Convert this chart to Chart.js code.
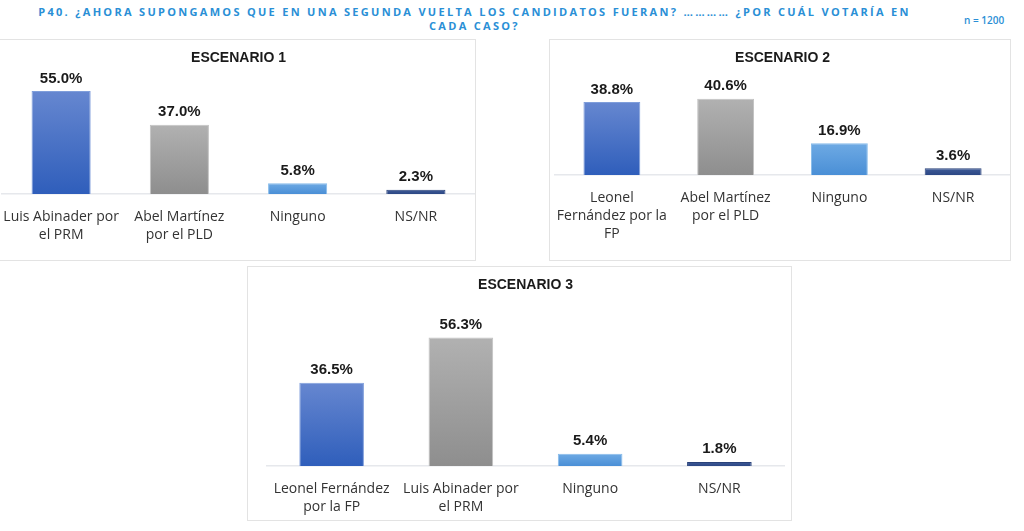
<!DOCTYPE html>
<html lang="es">
<head>
<meta charset="utf-8">
<title>P40 Segunda vuelta</title>
<script src="https://cdn.jsdelivr.net/npm/chart.js@4.4.0/dist/chart.umd.min.js"></script>
<style>
    body { margin: 0; width: 1024px; height: 531px; background: #fff; position: relative; overflow: hidden; }
    .titulo { position: absolute; left: 0; top: 5px; width: 949px; text-align: center; color: #2a8fd6;
              font: bold 11px "Open Sans", sans-serif; letter-spacing: 2.3px; line-height: 14px; }
    .muestra { position: absolute; left: 964px; top: 13px; color: #2a8fd6; font: 600 10px "Open Sans", sans-serif; }
    .caja { position: absolute; box-sizing: border-box; border: 1px solid #e3e3e3; background: #fff; }
</style>
</head>
<body>
<div class="titulo">P40. ¿AHORA SUPONGAMOS QUE EN UNA SEGUNDA VUELTA LOS CANDIDATOS FUERAN? ………… ¿POR CUÁL VOTARÍA EN<br>CADA CASO?</div>
<div class="muestra">n = 1200</div>

<div class="caja" style="left:-1px; top:39px; width:477px; height:222px;"><canvas id="grafico1"></canvas></div>
<div class="caja" style="left:549px; top:39px; width:462px; height:222px;"><canvas id="grafico2"></canvas></div>
<div class="caja" style="left:247px; top:266px; width:545px; height:255px;"><canvas id="grafico3"></canvas></div>

<script>
// datos de los tres escenarios
const titulos = ['ESCENARIO 1', 'ESCENARIO 2', 'ESCENARIO 3'];

const categorias1 = [['Luis Abinader por', 'el PRM'], ['Abel Martínez', 'por el PLD'], 'Ninguno', 'NS/NR'];
const valores1 = [55.0, 37.0, 5.8, 2.3];

const categorias2 = [['Leonel', 'Fernández por la', 'FP'], ['Abel Martínez', 'por el PLD'], 'Ninguno', 'NS/NR'];
const valores2 = [38.8, 40.6, 16.9, 3.6];

const categorias3 = [['Leonel Fernández', 'por la FP'], ['Luis Abinader por', 'el PRM'], 'Ninguno', 'NS/NR'];
const valores3 = [36.5, 56.3, 5.4, 1.8];

// colores por posición: arriba / abajo del degradado, y borde
const colorArriba = ['#6687d0', '#b1b1b1', '#6eaae4', '#3f5b98'];
const colorAbajo = ['#2f5ebb', '#8e8e8e', '#4a8fd6', '#2c4784'];
const colorBorde = ['#7f9edb', '#c2c2c2', '#86bbea', '#2a4279'];

// etiquetas de porcentaje encima de cada barra
const etiquetasValor = {
    id: 'etiquetasValor',
    afterDatasetsDraw(chart) {
        const ctx = chart.ctx;
        const meta = chart.getDatasetMeta(0);
        const datos = chart.data.datasets[0].data;
        ctx.save();
        ctx.font = 'bold 15px "Liberation Sans", Arial, sans-serif';
        ctx.fillStyle = '#1a1a1a';
        ctx.textAlign = 'center';
        ctx.textBaseline = 'alphabetic';
        meta.data.forEach((barra, i) => {
            ctx.fillText(datos[i].toFixed(1) + '%', barra.x, barra.y - 8.5);
        });
        ctx.restore();
    }
};

function degradado(context) {
    const chart = context.chart;
    const area = chart.chartArea;
    const i = context.dataIndex;
    if (!area) return colorAbajo[i];
    const valor = context.dataset.data[i];
    const yTop = chart.scales.y.getPixelForValue(valor);
    const g = chart.ctx.createLinearGradient(0, yTop, 0, area.bottom);
    g.addColorStop(0, colorArriba[i]);
    g.addColorStop(1, colorAbajo[i]);
    return g;
}

function crearGrafico(id, titulo, etiquetas, valores, ajuste) {
    const ctx = document.getElementById(id).getContext('2d');
    return new Chart(ctx, {
        type: 'bar',
        data: {
            labels: etiquetas,
            datasets: [{
                data: valores,
                backgroundColor: degradado,
                borderColor: colorBorde,
                borderWidth: 1,
                borderSkipped: 'bottom',
                barPercentage: 0.5,
                categoryPercentage: 1.0
            }]
        },
        options: {
            responsive: true,
            maintainAspectRatio: false,
            animation: false,
            layout: {
                padding: { left: ajuste.izq, right: ajuste.der, top: 0, bottom: 0 }
            },
            plugins: {
                legend: { display: false },
                tooltip: { enabled: false },
                title: {
                    display: true,
                    text: titulo,
                    color: '#1a1a1a',
                    font: { family: '"Liberation Sans", Arial, sans-serif', size: 14, weight: 'bold' },
                    padding: { top: 10, bottom: 5 }
                }
            },
            scales: {
                x: {
                    grid: { display: false, drawTicks: false },
                    border: { display: true, color: '#e6e8ec', width: 1.5 },
                    ticks: {
                        color: '#333',
                        padding: 14,
                        autoSkip: false,
                        maxRotation: 0,
                        font: { family: '"Open Sans", sans-serif', size: 14, lineHeight: 1.3 }
                    },
                    // alto fijo del eje y sin margen lateral extra para las etiquetas
                    afterFit(scale) {
                        scale.height = ajuste.altoEje;
                        scale.paddingLeft = 0;
                        scale.paddingRight = 0;
                    }
                },
                y: {
                    display: false,
                    min: 0,
                    max: ajuste.yMax
                }
            }
        },
        plugins: [etiquetasValor]
    });
}

crearGrafico('grafico1', titulos[0], categorias1, valores1, { izq: 2, der: 0, altoEje: 66, yMax: 65.3 });
crearGrafico('grafico2', titulos[1], categorias2, valores2, { izq: 5, der: 0, altoEje: 85, yMax: 54.9 });
crearGrafico('grafico3', titulos[2], categorias3, valores3, { izq: 19, der: 7, altoEje: 54, yMax: 73.3 });
</script>
</body>
</html>
